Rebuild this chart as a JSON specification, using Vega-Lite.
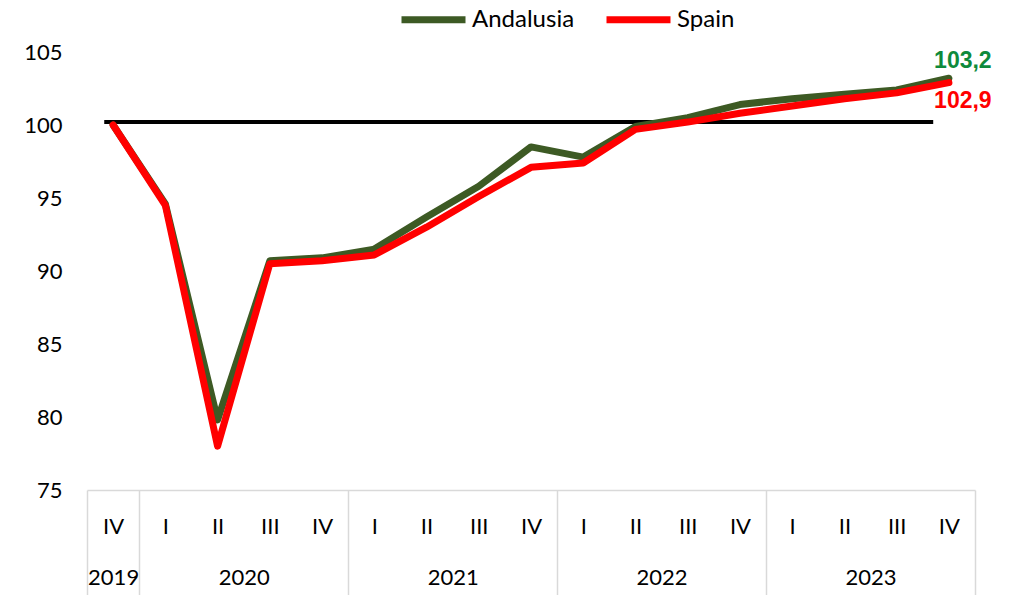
{
  "$schema": "https://vega.github.io/schema/vega-lite/v6.json",
  "width": 888,
  "height": 438,
  "autosize": {"type": "none"},
  "padding": {"left": 87, "top": 52, "right": 44, "bottom": 105},
  "config": {"view": {"stroke": null}, "font": "Lato"},
  "datasets": {
    "series": [
      {"idx": 0, "year": "2019", "quarter": "IV", "series": "Andalusia", "value": 100},
      {"idx": 1, "year": "2020", "quarter": "I", "series": "Andalusia", "value": 94.6},
      {"idx": 2, "year": "2020", "quarter": "II", "series": "Andalusia", "value": 79.8},
      {"idx": 3, "year": "2020", "quarter": "III", "series": "Andalusia", "value": 90.7},
      {"idx": 4, "year": "2020", "quarter": "IV", "series": "Andalusia", "value": 90.9},
      {"idx": 5, "year": "2021", "quarter": "I", "series": "Andalusia", "value": 91.5},
      {"idx": 6, "year": "2021", "quarter": "II", "series": "Andalusia", "value": 93.7},
      {"idx": 7, "year": "2021", "quarter": "III", "series": "Andalusia", "value": 95.8},
      {"idx": 8, "year": "2021", "quarter": "IV", "series": "Andalusia", "value": 98.5},
      {"idx": 9, "year": "2022", "quarter": "I", "series": "Andalusia", "value": 97.8},
      {"idx": 10, "year": "2022", "quarter": "II", "series": "Andalusia", "value": 99.9},
      {"idx": 11, "year": "2022", "quarter": "III", "series": "Andalusia", "value": 100.5},
      {"idx": 12, "year": "2022", "quarter": "IV", "series": "Andalusia", "value": 101.4},
      {"idx": 13, "year": "2023", "quarter": "I", "series": "Andalusia", "value": 101.8},
      {"idx": 14, "year": "2023", "quarter": "II", "series": "Andalusia", "value": 102.1},
      {"idx": 15, "year": "2023", "quarter": "III", "series": "Andalusia", "value": 102.4},
      {"idx": 16, "year": "2023", "quarter": "IV", "series": "Andalusia", "value": 103.2},
      {"idx": 0, "year": "2019", "quarter": "IV", "series": "Spain", "value": 100},
      {"idx": 1, "year": "2020", "quarter": "I", "series": "Spain", "value": 94.5},
      {"idx": 2, "year": "2020", "quarter": "II", "series": "Spain", "value": 78.0},
      {"idx": 3, "year": "2020", "quarter": "III", "series": "Spain", "value": 90.5},
      {"idx": 4, "year": "2020", "quarter": "IV", "series": "Spain", "value": 90.7},
      {"idx": 5, "year": "2021", "quarter": "I", "series": "Spain", "value": 91.1},
      {"idx": 6, "year": "2021", "quarter": "II", "series": "Spain", "value": 93.0},
      {"idx": 7, "year": "2021", "quarter": "III", "series": "Spain", "value": 95.1},
      {"idx": 8, "year": "2021", "quarter": "IV", "series": "Spain", "value": 97.1},
      {"idx": 9, "year": "2022", "quarter": "I", "series": "Spain", "value": 97.4},
      {"idx": 10, "year": "2022", "quarter": "II", "series": "Spain", "value": 99.7},
      {"idx": 11, "year": "2022", "quarter": "III", "series": "Spain", "value": 100.2},
      {"idx": 12, "year": "2022", "quarter": "IV", "series": "Spain", "value": 100.8},
      {"idx": 13, "year": "2023", "quarter": "I", "series": "Spain", "value": 101.3},
      {"idx": 14, "year": "2023", "quarter": "II", "series": "Spain", "value": 101.8},
      {"idx": 15, "year": "2023", "quarter": "III", "series": "Spain", "value": 102.2},
      {"idx": 16, "year": "2023", "quarter": "IV", "series": "Spain", "value": 102.9}
    ],
    "ref": [{"x0": -0.17, "x1": 15.7, "value": 100.2}],
    "labels": [
      {"idx": 16, "series": "Andalusia", "value": 103.2, "label": "103,2"},
      {"idx": 16, "series": "Spain", "value": 102.9, "label": "102,9"}
    ]
  },
  "resolve": {"axis": {"x": "independent"}},
  "layer": [
    {
      "data": {"name": "ref"},
      "mark": {"type": "rule", "color": "#000000", "strokeWidth": 4},
      "encoding": {
        "x": {
          "field": "x0", "type": "quantitative",
          "scale": {"domain": [-0.5, 16.5], "nice": false, "zero": false},
          "axis": {"orient": "bottom", "values": [-0.5, 0.5, 4.5, 8.5, 12.5, 16.5], "labels": false, "domain": false, "grid": false, "ticks": true, "tickSize": 105, "tickColor": "#D9D9D9", "tickWidth": 1.5, "title": null}
        },
        "x2": {"field": "x1"},
        "y": {
          "field": "value", "type": "quantitative",
          "scale": {"domain": [75, 105], "nice": false, "zero": false},
          "axis": {"values": [75, 80, 85, 90, 95, 100, 105], "domain": false, "ticks": false, "grid": false, "labelFontSize": 22, "labelColor": "#000000", "labelPadding": 25, "title": null}
        }
      }
    },
    {
      "data": {"name": "series"},
      "mark": {"type": "line", "strokeWidth": 7, "strokeCap": "round", "strokeJoin": "round"},
      "encoding": {
        "x": {
          "field": "idx", "type": "quantitative",
          "axis": {"orient": "bottom", "values": [0,1,2,3,4,5,6,7,8,9,10,11,12,13,14,15,16], "labelExpr": "['IV','I','II','III'][datum.value % 4]", "domain": true, "domainColor": "#D9D9D9", "domainWidth": 1.5, "ticks": false, "grid": false, "labelFontSize": 22, "labelColor": "#000000", "labelPadding": 26, "title": null}
        },
        "y": {
          "field": "value", "type": "quantitative",
          "axis": {"values": [75, 80, 85, 90, 95, 100, 105], "domain": false, "ticks": false, "grid": false, "labelFontSize": 22, "labelColor": "#000000", "labelPadding": 25, "title": null}
        },
        "color": {
          "field": "series", "type": "nominal",
          "scale": {"domain": ["Andalusia", "Spain"], "range": ["#3D5A24", "#FF0000"]},
          "legend": {"orient": "none", "legendX": 311, "legendY": -68, "direction": "horizontal", "title": null, "symbolType": "stroke", "symbolSize": 4096, "symbolStrokeWidth": 7, "labelFontSize": 24, "labelColor": "#000000", "labelOffset": 3, "columnPadding": 17}
        }
      }
    },
    {
      "data": {"name": "labels"},
      "transform": [{"filter": "datum.series == 'Andalusia'"}],
      "mark": {"type": "text", "color": "#0E8A3B", "font": "Liberation Sans", "fontWeight": "bold", "fontSize": 23, "dx": 14, "dy": -17, "align": "center", "baseline": "middle", "clip": false},
      "encoding": {
        "x": {
          "field": "idx", "type": "quantitative",
          "axis": {"orient": "bottom", "values": [0, 2.5, 6.5, 10.5, 14.5], "labelExpr": "datum.value < 1 ? '2019' : datum.value < 5 ? '2020' : datum.value < 9 ? '2021' : datum.value < 13 ? '2022' : '2023'", "domain": false, "ticks": false, "grid": false, "labelFontSize": 22, "labelColor": "#000000", "labelPadding": 77, "title": null}
        },
        "y": {
          "field": "value", "type": "quantitative",
          "axis": {"values": [75, 80, 85, 90, 95, 100, 105], "domain": false, "ticks": false, "grid": false, "labelFontSize": 22, "labelColor": "#000000", "labelPadding": 25, "title": null}
        },
        "text": {"field": "label"}
      }
    },
    {
      "data": {"name": "labels"},
      "transform": [{"filter": "datum.series == 'Spain'"}],
      "mark": {"type": "text", "color": "#FF0000", "font": "Liberation Sans", "fontWeight": "bold", "fontSize": 23, "dx": 14, "dy": 18, "align": "center", "baseline": "middle", "clip": false},
      "encoding": {
        "x": {"field": "idx", "type": "quantitative", "axis": null},
        "y": {
          "field": "value", "type": "quantitative",
          "axis": {"values": [75, 80, 85, 90, 95, 100, 105], "domain": false, "ticks": false, "grid": false, "labelFontSize": 22, "labelColor": "#000000", "labelPadding": 25, "title": null}
        },
        "text": {"field": "label"}
      }
    }
  ]
}
